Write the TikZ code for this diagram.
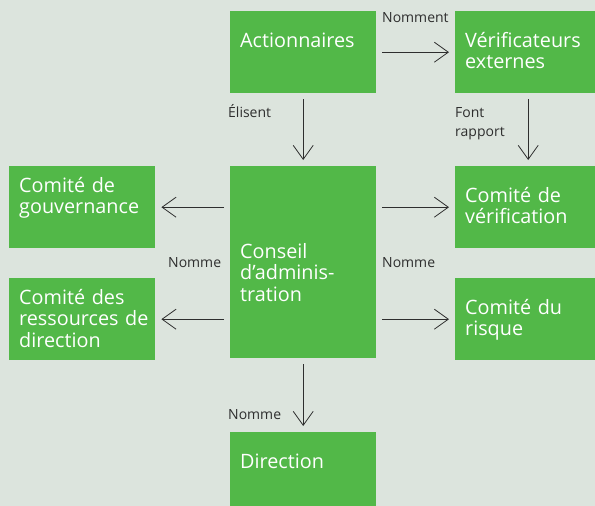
\documentclass[tikz,border=0pt]{standalone}
\usepackage{fontspec}
\setmainfont{Open Sans}
\usetikzlibrary{arrows.meta,calc}
\definecolor{bg}{HTML}{DCE4DD}
\definecolor{boxgreen}{HTML}{52B848}
\definecolor{ink}{HTML}{2E2E2E}
\begin{document}
\begin{tikzpicture}[x=1pt,y=-1pt,
  box/.style={fill=boxgreen,draw=none,inner sep=0pt,minimum width=146pt,anchor=north west},
  boxtext/.style={text=white,font=\fontsize{19.8}{21.5}\selectfont,anchor=base west,inner sep=0pt,align=left,text width=138pt},
  lbl/.style={text=ink,font=\fontsize{14}{19}\selectfont,anchor=base west,inner sep=0pt,align=left,text width=70pt},
  arr/.style={draw=ink,line width=0.8pt,-{Straight Barb[length=14pt,width=20pt]},shorten <=6pt,shorten >=6pt}]
\fill[bg] (0,0) rectangle (595,506);
\useasboundingbox (0,0) rectangle (595,506);
% boxes
\node[box,minimum height=82pt] (act) at (230,11) {};
\node[box,minimum height=82pt] (ver) at (455,11) {};
\node[box,minimum height=192pt] (cons) at (230,166) {};
\node[box,minimum height=82pt] (gov) at (9,166) {};
\node[box,minimum height=82pt] (res) at (9,278) {};
\node[box,minimum height=82pt] (vrf) at (455,166) {};
\node[box,minimum height=82pt] (rsk) at (455,278) {};
\node[box,minimum height=80pt] (dir) at (230,432) {};
% box texts
\node[boxtext] (actT) at (240,47) {Actionnaires};
\node[boxtext] (verT) at (465,47) {Vérificateurs\\externes};
\node[boxtext] (consT) at (240,258) {Conseil\\d’adminis-\\tration};
\node[boxtext] (govT) at (19,192) {Comité de\\gouvernance};
\node[boxtext] (resT) at (19,304) {Comité des\\ressources de\\direction};
\node[boxtext] (vrfT) at (465,202) {Comité de\\vérification};
\node[boxtext] (rskT) at (465,314) {Comité du\\risque};
\node[boxtext] (dirT) at (240,468) {Direction};
% connectors
\draw[arr] (act.east) -- (ver.west);
\draw[arr] (act.south) -- (cons.north);
\draw[arr] (ver.south) -- (vrf.north);
\draw[arr] (cons.west |- gov.east) -- (gov.east);
\draw[arr] (cons.west |- res.east) -- (res.east);
\draw[arr] (cons.east |- vrf.west) -- (vrf.west);
\draw[arr] (cons.east |- rsk.west) -- (rsk.west);
\draw[arr] (cons.south) -- (dir.north);
% labels
\node[lbl] (l1) at (382,23) {Nomment};
\node[lbl] (l2) at (228,117) {Élisent};
\node[lbl] (l3) at (455,117) {Font\\rapport};
\node[lbl] (l4) at (168,267) {Nomme};
\node[lbl] (l5) at (382,267) {Nomme};
\node[lbl] (l6) at (228,419) {Nomme};
\end{tikzpicture}
\end{document}
